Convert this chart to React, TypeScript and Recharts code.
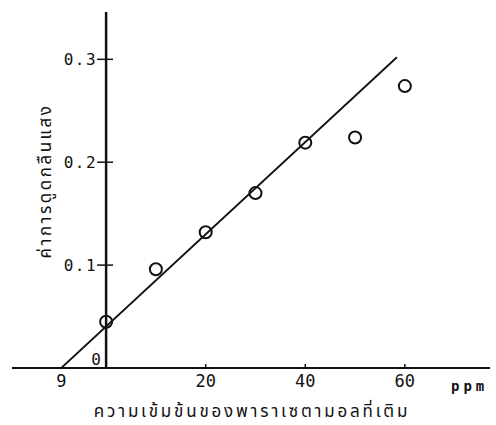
import { ComposedChart, Line, Scatter, XAxis, YAxis, ReferenceLine } from "recharts";

// standard addition: absorbance vs added concentration (ppm)
const addedPpm = [0, 10, 20, 30, 40, 50, 60];
const absorbance = [0.045, 0.096, 0.132, 0.17, 0.219, 0.224, 0.274];

// fitted line, extrapolated back to the x-intercept
const fitX = [-9, 58.4];
const fitY = [0, 0.302];

const xTicks = [-9, 0, 20, 40, 60];
const yTicks = [0.1, 0.2, 0.3];

const points = addedPpm.map((x, i) => ({ x, y: absorbance[i] }));
const fitLine = fitX.map((x, i) => ({ x, y: fitY[i] }));

const mono = "'DejaVu Sans Mono', monospace";
const thai = "'Noto Sans Thai', 'DejaVu Sans', sans-serif";

const XTick = (props: any) => {
  const { x, y, payload } = props;
  const v = payload.value;
  if (v === 0) {
    return (
      <text x={x - 10} y={y - 8} textAnchor="middle" dominantBaseline="middle" fontFamily={mono} fontSize={16} fill="#111">
        0
      </text>
    );
  }
  return (
    <g>
      {v > 0 && <line x1={x} y1={y - 4} x2={x} y2={y + 1} stroke="#111" strokeWidth={1.5} />}
      <text x={x} y={y + 14} textAnchor="middle" dominantBaseline="middle" fontFamily={mono} fontSize={17} fill="#111">
        {Math.abs(v)}
      </text>
    </g>
  );
};

const Ring = (props: any) => (
  <circle cx={props.cx} cy={props.cy} r={6} fill="none" stroke="#111" strokeWidth={2} />
);

export default function App() {
  return (
    <div style={{ position: "relative", width: 496, height: 425, background: "#fff" }}>
      <style>{"body{margin:0}"}</style>
      <ComposedChart width={496} height={425} margin={{ top: 12, right: 6, bottom: 27, left: 12 }}>
        <XAxis
          type="number"
          dataKey="x"
          domain={[-18.9, 77.1]}
          ticks={xTicks}
          allowDataOverflow
          height={30}
          axisLine={{ stroke: "#111", strokeWidth: 2 }}
          tickLine={false}
          tickSize={0}
          tickMargin={0}
          tick={<XTick />}
        />
        <YAxis type="number" dataKey="y" hide domain={[0, 0.346]} allowDataOverflow />
        <ReferenceLine x={0} stroke="#111" strokeWidth={2.5} />
        {yTicks.map((v) => (
          <ReferenceLine
            key={v}
            segment={[{ x: -1.8, y: v }, { x: 1.4, y: v }]}
            stroke="#111"
            strokeWidth={1.5}
            label={{ value: v.toFixed(1), position: "left", offset: 0, fontFamily: mono, fontSize: 16, fill: "#111", letterSpacing: 1.5 }}
          />
        ))}
        <Line data={fitLine} dataKey="y" type="linear" stroke="#111" strokeWidth={1.8} dot={false} activeDot={false} isAnimationActive={false} />
        <Scatter data={points} dataKey="y" shape={<Ring />} isAnimationActive={false} />
      </ComposedChart>
      <div
        style={{
          position: "absolute",
          left: 46,
          top: 181,
          transform: "translate(-50%, -50%) rotate(-90deg)",
          whiteSpace: "nowrap",
          fontFamily: thai,
          fontSize: 17,
          color: "#111",
          letterSpacing: 2.5,
        }}
      >
        ค่าการดูดกลืนแสง
      </div>
      <div
        style={{
          position: "absolute",
          left: 252,
          top: 412,
          transform: "translate(-50%, -50%)",
          whiteSpace: "nowrap",
          fontFamily: thai,
          fontSize: 17,
          color: "#111",
          letterSpacing: 2.8,
        }}
      >
        ความเข้มข้นของพาราเซตามอลที่เติม
      </div>
      <div
        style={{
          position: "absolute",
          left: 451,
          top: 386,
          transform: "translateY(-50%)",
          fontFamily: mono,
          fontSize: 14,
          fontWeight: "bold",
          letterSpacing: 4,
          color: "#111",
        }}
      >
        ppm
      </div>
    </div>
  );
}
